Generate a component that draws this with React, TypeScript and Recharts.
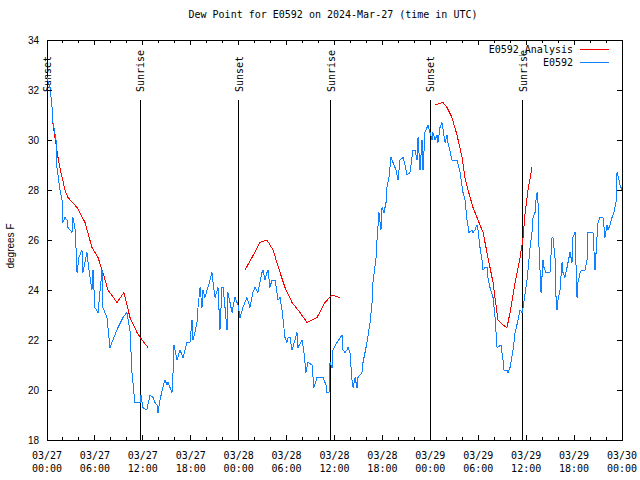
import { LineChart, Line, XAxis, YAxis, ReferenceLine, ReferenceArea } from 'recharts'

// hours since 03/27 00:00 UTC
const obsHours = [
  0, 0.38, 0.63, 0.75, 1.13, 1.25, 1.63, 1.88, 2.0, 2.25, 2.5, 2.63, 3.13, 3.25, 3.5, 3.63, 3.76, 4.0, 4.38, 4.5,
  5.0, 5.26, 5.63, 5.76, 6.0, 6.39, 6.89, 7.0, 7.51, 7.89, 8.26, 8.89, 9.52, 10.0, 10.39, 10.64, 11.0, 11.65, 11.77, 12.0,
  12.5, 12.9, 13.27, 13.52, 13.77, 13.9, 14.15, 14.5, 14.78, 15.03, 15.15, 15.4, 15.65, 15.78, 15.9, 16.28, 16.65, 17.03, 17.53, 17.9,
  18.16, 18.28, 18.53, 18.78, 18.91, 19.16, 19.41, 19.53, 19.78, 20.04, 20.16, 20.41, 20.66, 20.79, 21.04, 21.41, 21.66, 21.91, 22.04, 22.29,
  22.54, 22.66, 23.17, 23.29, 23.54, 23.92, 24.17, 24.54, 25.04, 25.42, 25.79, 26.05, 26.42, 26.92, 27.05, 27.3, 27.55, 27.67, 27.92, 28.17,
  28.55, 28.8, 28.93, 29.18, 29.43, 29.8, 30.05, 30.18, 30.43, 30.68, 31.05, 31.3, 31.43, 31.93, 32.18, 32.43, 32.68, 33.18, 33.43, 33.81,
  34.56, 34.94, 35.06, 35.31, 35.44, 35.69, 35.81, 36.31, 36.94, 37.06, 37.32, 37.57, 37.69, 37.94, 38.19, 38.32, 38.57, 38.82, 38.94, 39.44,
  39.57, 40.07, 40.45, 40.7, 40.82, 41.2, 41.32, 41.57, 41.82, 41.95, 42.2, 42.45, 42.57, 42.82, 43.07, 43.33, 43.7, 43.95, 44.2, 44.58,
  44.83, 45.08, 45.45, 45.83, 46.08, 46.33, 46.46, 46.71, 46.96, 47.08, 47.33, 47.71, 47.96, 48.21, 48.33, 48.58, 48.84, 48.96, 49.21, 49.46,
  49.84, 50.09, 50.21, 50.71, 51.34, 51.72, 52.09, 52.34, 52.59, 52.84, 53.22, 53.34, 53.59, 53.84, 53.97, 54.22, 54.47, 54.6, 54.85, 55.1,
  55.22, 55.47, 55.85, 56.1, 56.35, 56.85, 57.1, 57.23, 57.6, 57.73, 57.98, 58.36, 58.61, 58.99, 59.24, 59.49, 59.61, 60.11, 60.23, 60.49,
  60.73, 60.86, 61.11, 61.23, 61.36, 61.48, 61.61, 61.86, 62.11, 62.23, 62.48, 62.98, 63.24, 63.36, 63.61, 63.74, 63.86, 63.99, 64.24, 64.49,
  64.61, 64.86, 65.24, 65.49, 65.74, 65.86, 66.12, 66.37, 66.49, 66.75, 66.99, 67.37, 67.62, 67.74, 68.37, 68.62, 68.87, 69.0, 69.25, 69.62,
  69.75, 69.87, 70.12, 70.25, 70.5, 70.75, 71.0, 71.25, 71.38, 71.63, 71.76, 72.0,
]
const obsDew = [
  32.5, 32.1, 31.3, 30.7, 30.0, 28.9, 28.0, 27.6, 26.7, 26.9, 26.8, 26.5, 26.3, 26.9, 26.5, 25.7, 24.7, 25.3, 25.6, 24.7,
  25.5, 24.8, 24.0, 24.8, 23.3, 23.1, 24.8, 23.3, 22.9, 21.7, 22.0, 22.5, 22.9, 23.1, 22.4, 20.7, 19.5, 19.5, 19.8, 19.3,
  19.2, 19.8, 19.7, 19.5, 19.4, 19.1, 19.6, 20.1, 20.4, 20.2, 20.3, 20.1, 19.9, 20.7, 21.8, 21.2, 21.6, 21.3, 21.9, 21.9,
  22.8, 22.0, 22.3, 22.7, 23.3, 24.1, 23.3, 24.0, 23.7, 24.0, 24.1, 24.4, 24.7, 24.3, 23.7, 24.1, 22.4, 24.1, 24.1, 23.3,
  22.4, 23.9, 23.1, 23.3, 23.7, 23.4, 22.9, 23.3, 23.7, 23.3, 23.9, 24.1, 23.9, 24.7, 24.8, 24.4, 24.7, 24.8, 24.1, 24.4,
  24.4, 23.9, 23.6, 23.7, 23.2, 22.1, 21.9, 22.1, 22.1, 21.6, 22.0, 22.3, 21.7, 22.0, 21.5, 20.7, 21.1, 21.0, 20.1, 20.5,
  20.5, 20.2, 19.9, 19.9, 21.1, 20.9, 21.6, 21.9, 22.2, 21.6, 21.5, 21.6, 21.7, 21.5, 20.4, 20.1, 20.5, 20.1, 20.5, 20.7,
  21.1, 21.9, 22.7, 23.5, 24.3, 25.3, 26.0, 27.1, 26.4, 27.3, 27.1, 27.5, 28.1, 28.5, 29.3, 29.1, 28.8, 28.4, 29.2, 29.3,
  29.0, 28.6, 28.7, 29.6, 29.6, 29.2, 30.1, 28.8, 30.0, 28.8, 30.3, 30.6, 30.3, 30.0, 30.3, 30.0, 30.2, 29.9, 30.5, 30.7,
  29.9, 30.2, 29.9, 29.2, 29.2, 28.7, 27.9, 27.6, 26.8, 26.3, 26.4, 26.3, 26.4, 26.6, 26.4, 25.7, 25.2, 24.8, 24.9, 24.9,
  24.5, 24.1, 23.7, 22.9, 21.7, 21.8, 21.2, 20.8, 20.8, 20.7, 20.9, 21.6, 22.3, 22.8, 23.2, 23.1, 23.3, 24.4, 24.8, 25.7,
  26.3, 26.9, 27.1, 27.6, 27.9, 27.5, 25.7, 23.9, 25.2, 24.9, 24.7, 24.7, 26.1, 26.1, 25.3, 23.7, 23.2, 23.6, 24.0, 25.1,
  24.7, 24.5, 25.1, 25.5, 25.1, 26.1, 26.3, 23.7, 24.3, 24.7, 24.8, 24.8, 25.2, 26.3, 26.3, 24.8, 26.1, 26.7, 26.9, 26.9,
  26.5, 26.1, 26.6, 26.4, 26.6, 26.9, 27.1, 27.5, 28.7, 28.4, 28.2, 28.0,
]

// analysis runs, null splits the three night segments
const anaHours = [
  0.63, 1.38, 1.75, 2.25, 2.63, 3.76, 4.76, 5.63, 6.39, 7.0, 7.64, 8.77, 9.64, 10.39, 11.27, 11.9, 12.65,
  18,
  24.79, 25.67, 26.67, 27.55, 28.3, 29.18, 29.8, 30.68, 31.68, 32.56, 33.81, 34.81, 35.69, 36.69,
  42,
  48.58, 49.59, 50.09, 50.71, 51.34, 51.97, 52.34, 52.72, 53.34, 53.97, 54.6, 55.22, 55.85, 56.47, 57.1, 57.6, 57.98,
  58.61, 59.24, 59.61, 59.87, 60.23, 60.73,
]
const anaDew = [
  30.9, 29.3, 28.7, 28.0, 27.7, 27.3, 26.7, 25.7, 25.3, 24.7, 24.0, 23.5, 23.9, 22.9, 22.3, 22.0, 21.7,
  null,
  24.8, 25.3, 25.9, 26.0, 25.6, 24.7, 24.1, 23.5, 23.1, 22.7, 22.9, 23.5, 23.8, 23.7,
  null,
  31.4, 31.5, 31.3, 30.9, 30.2, 29.3, 28.5, 28.0, 27.3, 26.8, 26.3, 25.3, 24.3, 22.8, 22.6, 22.5, 23.1,
  24.3, 25.3, 26.1, 27.1, 28.0, 28.9,
]

const sunHours = [0, 11.65, 24.04, 35.56, 47.96, 59.6]
const sunLabels = ['Sunset', 'Sunrise', 'Sunset', 'Sunrise', 'Sunset', 'Sunrise']

const xTicks = Array.from({ length: 37 }, (_, i) => i * 2)
const yTicks = [18, 20, 22, 24, 26, 28, 30, 32, 34]

const obsData = obsHours.map((h, i) => ({ h, dew: obsDew[i] }))
const anaData = anaHours.map((h, i) => ({ h, dew: anaDew[i] }))

const MONO = '"DejaVu Sans Mono", monospace'
const SANS = '"Liberation Sans", Arial, sans-serif'
const LEFT = 47
const RIGHT = 622
const TOP = 40
const BOTTOM = 440
const BLUE = '#1080ff'

function XTick(props: any) {
  const { x, payload } = props
  const h = payload.value as number
  const major = h % 6 === 0
  const len = major ? 5 : 3
  const day = 27 + Math.floor(h / 24)
  const hh = String(h % 24).padStart(2, '0')
  return (
    <g>
      <line x1={x} x2={x} y1={BOTTOM} y2={BOTTOM - len} stroke="#000" shapeRendering="crispEdges" />
      <line x1={x} x2={x} y1={TOP} y2={TOP + len} stroke="#000" shapeRendering="crispEdges" />
      {major && (
        <text fontFamily={MONO} fontSize={10} fill="#000" textAnchor="middle">
          <tspan x={x} y={459}>{`03/${day}`}</tspan>
          <tspan x={x} y={472}>{`${hh}:00`}</tspan>
        </text>
      )}
    </g>
  )
}

function YTick(props: any) {
  const { y, payload } = props
  return (
    <g>
      <line x1={LEFT} x2={LEFT + 5} y1={y} y2={y} stroke="#000" shapeRendering="crispEdges" />
      <line x1={RIGHT} x2={RIGHT - 5} y1={y} y2={y} stroke="#000" shapeRendering="crispEdges" />
      <text x={39} y={y} dy={4} textAnchor="end" fontFamily={SANS} fontSize={10} fill="#000">
        {payload.value}
      </text>
    </g>
  )
}

function SunLabel({ text }: { text: string }) {
  return (props: any) => {
    const vb = props.viewBox || {}
    const x = vb.x ?? 0
    const top = Math.min(vb.y ?? 0, (vb.y ?? 0) + (vb.height ?? 0))
    const y = top - 8
    return (
      <text
        x={x}
        y={y}
        dy={4}
        transform={`rotate(-90, ${x}, ${y})`}
        fontFamily={MONO}
        fontSize={10}
        fill="#000"
      >
        {text}
      </text>
    )
  }
}

export default function App() {
  return (
    <div style={{ position: 'absolute', left: 0, top: 0, width: 640, height: 480, background: '#fff' }}>
      <LineChart width={640} height={480} margin={{ top: 40, right: 18, bottom: 10, left: 7 }}>
        <XAxis
          type="number"
          dataKey="h"
          domain={[0, 72]}
          ticks={xTicks}
          interval={0}
          axisLine={false}
          tickLine={false}
          height={30}
          tick={<XTick />}
          allowDataOverflow
        />
        <YAxis
          type="number"
          domain={[18, 34]}
          ticks={yTicks}
          interval={0}
          axisLine={false}
          tickLine={false}
          width={40}
          tick={<YTick />}
          allowDataOverflow
        />
        <ReferenceArea
          x1={0}
          x2={72}
          y1={18}
          y2={34}
          fill="none"
          stroke="#000"
          strokeWidth={1}
          shapeRendering="crispEdges"
        />
        {sunHours.map((h, i) => (
          <ReferenceLine
            key={i}
            segment={[{ x: h, y: 31.6 }, { x: h, y: 18 }]}
            stroke="#000"
            strokeWidth={1}
            shapeRendering="crispEdges"
            label={SunLabel({ text: sunLabels[i] })}
          />
        ))}
        <Line
          data={anaData}
          dataKey="dew"
          type="linear"
          stroke="#ff0000"
          strokeWidth={1}
          dot={false}
          connectNulls={false}
          shapeRendering="crispEdges"
          isAnimationActive={false}
        />
        <Line
          data={obsData}
          dataKey="dew"
          type="linear"
          stroke={BLUE}
          strokeWidth={1}
          dot={false}
          shapeRendering="crispEdges"
          isAnimationActive={false}
        />
      </LineChart>
      <svg width={640} height={480} style={{ position: 'absolute', left: 0, top: 0, pointerEvents: 'none' }}>
        <text x={333} y={18} textAnchor="middle" fontFamily={MONO} fontSize={10} fill="#000">
          Dew Point for E0592 on 2024-Mar-27 (time in UTC)
        </text>
        <text
          x={14}
          y={246}
          textAnchor="middle"
          transform="rotate(-90, 14, 246)"
          fontFamily={SANS}
          fontSize={10}
          fill="#000"
        >
          degrees F
        </text>
        <text x={573} y={53} textAnchor="end" fontFamily={MONO} fontSize={10} fill="#000">
          E0592_Analysis
        </text>
        <line x1={580} x2={609} y1={49} y2={49} stroke="#ff0000" shapeRendering="crispEdges" />
        <text x={573} y={66} textAnchor="end" fontFamily={MONO} fontSize={10} fill="#000">
          E0592
        </text>
        <line x1={580} x2={609} y1={62.5} y2={62.5} stroke={BLUE} shapeRendering="crispEdges" />
      </svg>
    </div>
  )
}
